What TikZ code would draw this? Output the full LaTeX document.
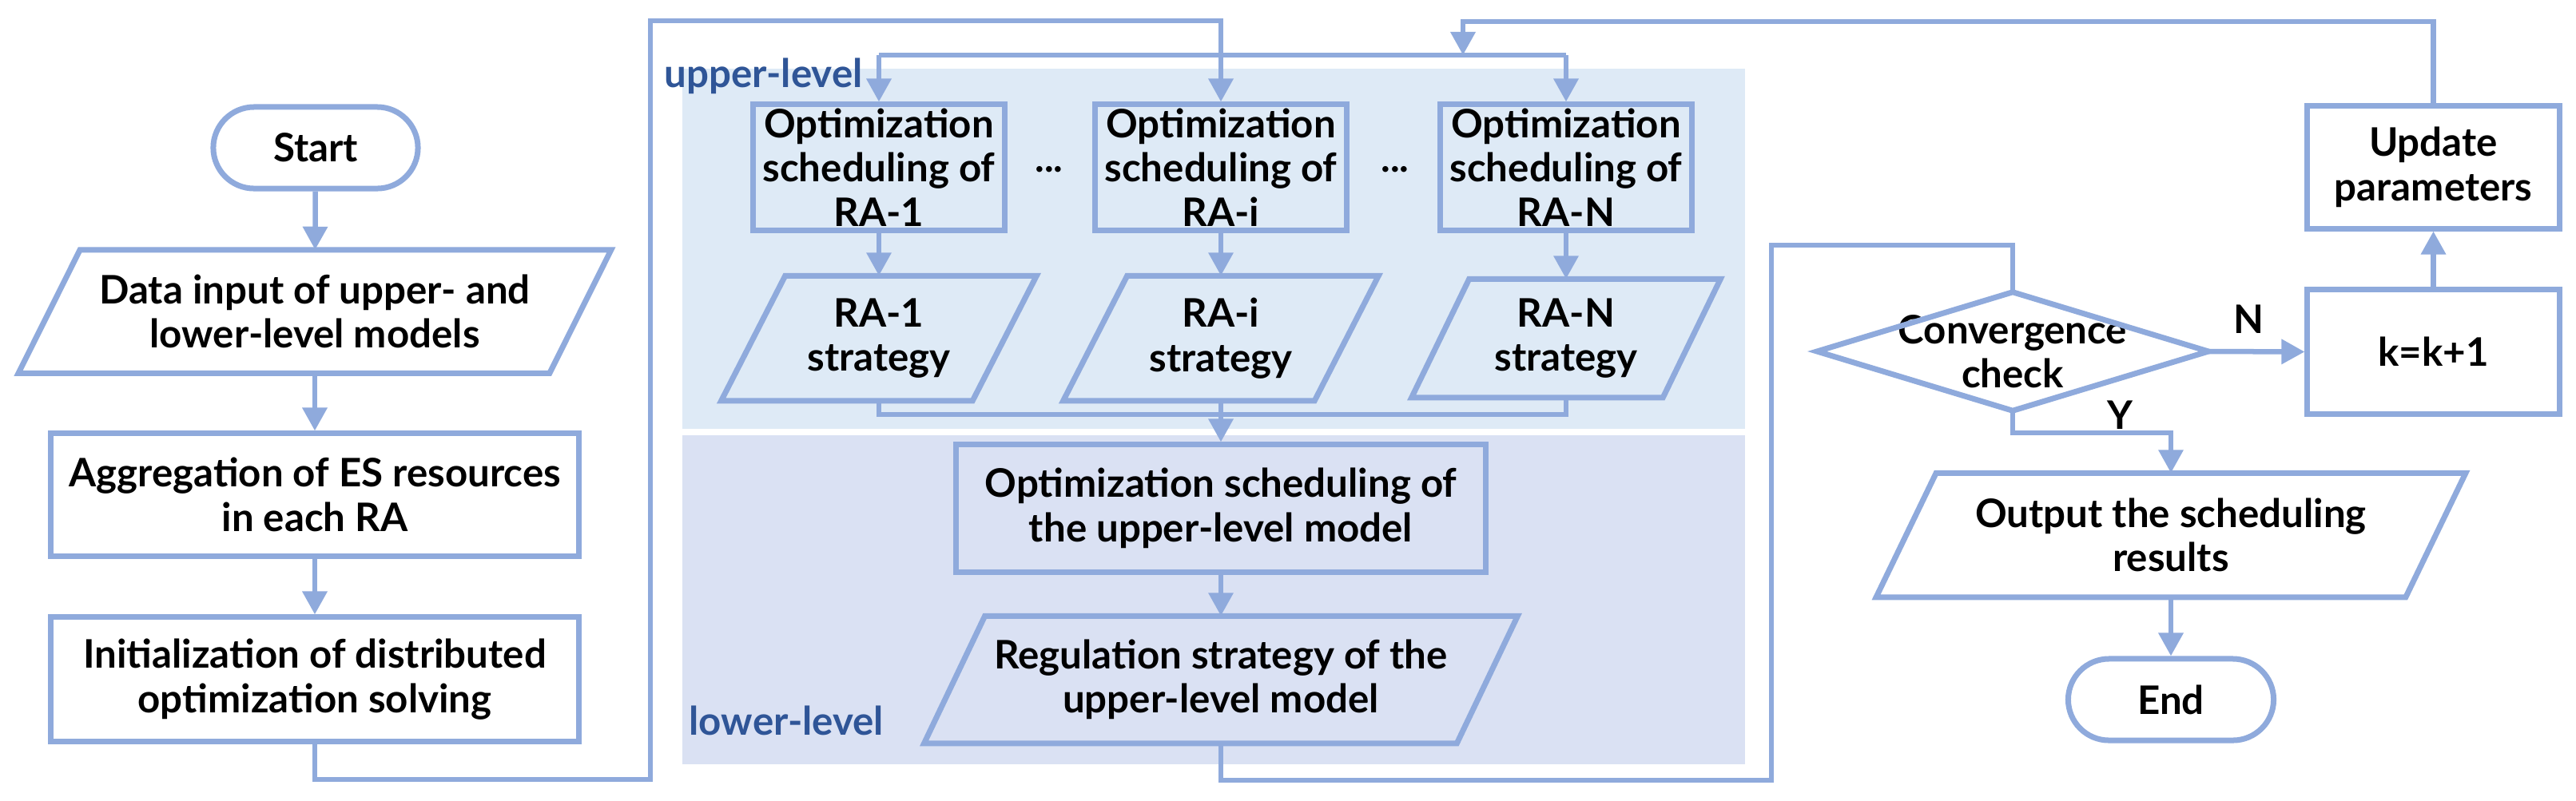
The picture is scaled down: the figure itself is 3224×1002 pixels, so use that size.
\documentclass[tikz,border=0pt]{standalone}
\usepackage{fontspec}
\setmainfont{Lato}
\usetikzlibrary{arrows.meta}
\definecolor{ln}{HTML}{8FAADC}
\definecolor{bgup}{HTML}{DEEAF6}
\definecolor{bglo}{HTML}{DAE1F3}
\definecolor{lblc}{HTML}{2F5597}
\newcommand\mypara[2]{\draw[shp] ([xshift=#2]#1.north west) -- ([xshift=#2]#1.north east) -- ([xshift=-#2]#1.south east) -- ([xshift=-#2]#1.south west) -- cycle;}
\newcommand\mydiam[1]{\draw[shp] (#1.north) -- (#1.east) -- (#1.south) -- (#1.west) -- cycle;}
\begin{document}
\begin{tikzpicture}[x=0.01cm,y=-0.01cm,
  every node/.style={font=\bfseries\fontsize{14}{15.8}\selectfont, align=center, inner sep=0pt},
  shp/.style={draw=ln, line width=0.07cm},
  box/.style={shp},
  txt/.style={},
  conn/.style={draw=ln, line width=0.065cm},
  arr/.style={conn, -{Triangle[length=0.29cm,width=0.3cm]}},
  lvl/.style={text=lblc, font=\bfseries\fontsize{14}{15}\selectfont},
]
\useasboundingbox (0,0) rectangle (3224,1002);
\fill[white] (0,0) rectangle (3224,1002);
% background regions
\fill[bgup] (854,86) rectangle (2184,537);
\fill[bglo] (854,545) rectangle (2184,957);

% left column
\node[box, minimum width=2.56cm, minimum height=1.02cm, rounded corners=0.51cm] (start) at (395,185) {Start};
\node[txt, minimum width=6.63cm, minimum height=1.53cm] (data) at (394,390) {Data input of upper- and\\lower-level models};
\mypara{data}{0.385cm}
\node[box, minimum width=6.61cm, minimum height=1.53cm] (agg) at (394,619.5) {Aggregation of ES resources\\in each RA};
\node[box, minimum width=6.61cm, minimum height=1.55cm] (init) at (394,850.5) {Initialization of distributed\\optimization solving};
\draw[arr] (start) -- (data);
\draw[arr] (data) -- (agg);
\draw[arr] (agg) -- (init);

% labels
\node[lvl, anchor=base west] (ul) at (831,109) {upper-level};
\node[lvl, anchor=base west] (ll) at (862,920) {lower-level};

% upper-level RA boxes
\node[box, minimum width=3.14cm, minimum height=1.57cm] (ra1) at (1100,209.5) {Optimization\\scheduling of\\RA-1};
\node[box, minimum width=3.14cm, minimum height=1.57cm] (rai) at (1528,209.5) {Optimization\\scheduling of\\RA-i};
\node[box, minimum width=3.14cm, minimum height=1.57cm] (ran) at (1960,209.5) {Optimization\\scheduling of\\RA-N};
\node (dots1) at (1313,212) {...};
\node (dots2) at (1746,212) {...};

\node[txt, minimum width=3.13cm, minimum height=1.55cm] (s1) at (1100,423.5) {RA-1\\strategy};
\mypara{s1}{0.40cm}
\node[txt, minimum width=3.13cm, minimum height=1.55cm] (si) at (1528,423.5) {RA-i\\strategy};
\mypara{si}{0.40cm}
\node[txt, minimum width=3.13cm, minimum height=1.47cm] (sn) at (1960,423.5) {RA-N\\strategy};
\mypara{sn}{0.36cm}

\draw[arr] (ra1) -- (s1);
\draw[arr] (rai) -- (si);
\draw[arr] (ran) -- (sn);

% lower-level
\node[box, minimum width=6.63cm, minimum height=1.59cm] (um) at (1528,636.5) {Optimization scheduling of\\the upper-level model};
\node[txt, minimum width=6.65cm, minimum height=1.58cm] (reg) at (1528,851) {Regulation strategy of the\\upper-level model};
\mypara{reg}{0.38cm}

% merge
\coordinate (m) at (1528,519);
\draw[conn] (s1.south) |- (m) -| (sn.south);
\draw[conn] (si.south) -- (m);
\draw[arr] (m) -- (um.north);
\draw[arr] (um) -- (reg);

% left loop into RA-i
\coordinate (l1) at (814,976);
\coordinate (l2) at (814,26);
\draw[arr] (init.south) |- (l1) -- (l2) -| (rai.north);

% right column
\node[txt, minimum width=4.88cm, minimum height=1.47cm] (conv) at (2519,440) {Convergence\\check};
\mydiam{conv}
\node[box, minimum width=3.15cm, minimum height=1.55cm] (kk) at (3045.5,440.5) {k=k+1};
\node[box, minimum width=3.15cm, minimum height=1.53cm] (upd) at (3045.5,209.5) {Update\\parameters};
\node[txt, minimum width=6.61cm, minimum height=1.54cm] (out) at (2717,670) {Output the scheduling\\results};
\mypara{out}{0.375cm}
\node[box, minimum width=2.57cm, minimum height=1.02cm, rounded corners=0.51cm] (endn) at (2717,876) {End};

\coordinate (c1) at (2217,977);
\coordinate (c2) at (2217,307);
\draw[conn] (reg.south) |- (c1) -- (c2) -| (conv.north);

\draw[arr] (conv.east) -- (kk.west);
\node (nlab) at (2814,400) {N};
\draw[arr] (kk) -- (upd);

% feedback to upper level
\coordinate (r1) at (1831,27);
\coordinate (jn) at (1831,69);
\coordinate (jl) at (ra1.north |- jn);
\coordinate (jr) at (ran.north |- jn);
\draw[arr] (upd.north) |- (r1) -- (jn);
\draw[conn] (jl) -- (jr);
\draw[arr] (jl) -- (ra1.north);
\draw[arr] (jr) -- (ran.north);

% Y branch
\coordinate (y1) at (2717,542);
\draw[arr] (conv.south) |- (y1) -- (out.north);
\node (ylab) at (2653,520) {Y};
\draw[arr] (out.south) -- (endn.north);
\end{tikzpicture}
\end{document}
